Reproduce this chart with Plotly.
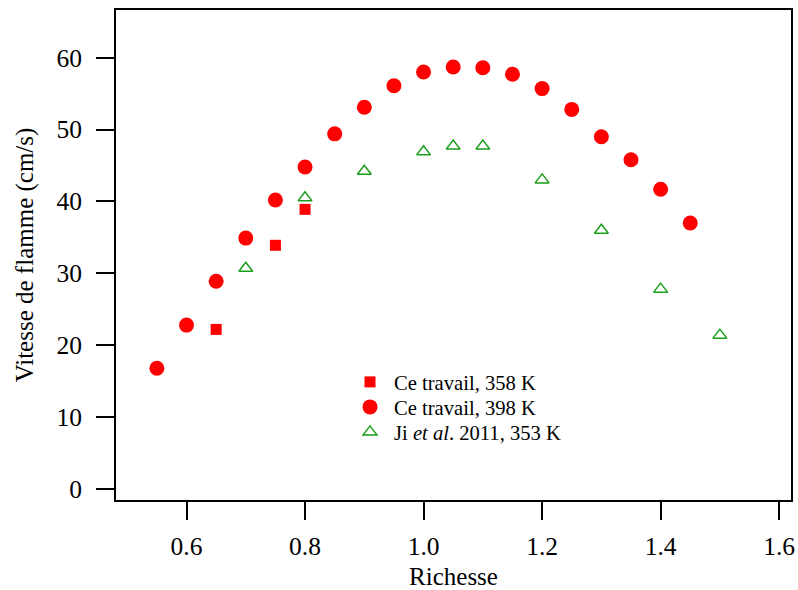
import plotly.graph_objects as go

# Data
richesse_398 = [0.55, 0.60, 0.65, 0.70, 0.75, 0.80, 0.85, 0.90, 0.95, 1.00,
                1.05, 1.10, 1.15, 1.20, 1.25, 1.30, 1.35, 1.40, 1.45]
vitesse_398 = [16.8, 22.8, 28.9, 34.9, 40.2, 44.8, 49.4, 53.1, 56.1, 58.0,
               58.7, 58.6, 57.7, 55.7, 52.8, 49.0, 45.8, 41.7, 37.0]

richesse_358 = [0.65, 0.75, 0.80]
vitesse_358 = [22.2, 33.9, 38.9]

richesse_ji = [0.70, 0.80, 0.90, 1.00, 1.05, 1.10, 1.20, 1.30, 1.40, 1.50]
vitesse_ji = [30.7, 40.5, 44.2, 46.9, 47.7, 47.7, 43.0, 36.0, 27.8, 21.4]

x_ticks = [0.6, 0.8, 1.0, 1.2, 1.4, 1.6]
y_ticks = [0, 10, 20, 30, 40, 50, 60]

FONT = "Liberation Serif"
RED = "#ff0000"
GREEN = "#1a9e1a"

fig = go.Figure()
fig.add_trace(go.Scatter(
    x=richesse_358, y=vitesse_358, mode="markers", name="Ce travail, 358 K",
    marker=dict(symbol="square", size=11, color=RED), legend="legend",
    showlegend=True))
fig.add_trace(go.Scatter(
    x=richesse_398, y=vitesse_398, mode="markers", name="Ce travail, 398 K",
    marker=dict(symbol="circle", size=15, color=RED), legend="legend2",
    showlegend=True))
fig.add_trace(go.Scatter(
    x=richesse_ji, y=vitesse_ji, mode="markers",
    name="Ji <i>et al</i>. 2011, 353 K",
    marker=dict(symbol="triangle-up-open", size=12, color=GREEN,
                line=dict(width=1.5, color=GREEN)), legend="legend3",
    showlegend=True))

axis_common = dict(
    showline=True, linewidth=2, linecolor="black", mirror=True,
    ticks="outside", ticklen=18, tickwidth=2, tickcolor="black",
    showgrid=False, zeroline=False, automargin=False,
    tickfont=dict(family=FONT, size=25.5, color="black"),
)

legend_common = dict(
    xref="paper", yref="paper", xanchor="left", yanchor="middle",
    bgcolor="rgba(0,0,0,0)", borderwidth=0, itemwidth=38,
    font=dict(family=FONT, size=20.6, color="black"),
)

def py(pix):
    return (500 - pix) / (500 - 10)

def px(pix):
    return (pix - 116) / (791 - 116)

fig.update_layout(
    width=798, height=590,
    showlegend=True,
    margin=dict(l=116, r=7, t=10, b=90, autoexpand=False),
    paper_bgcolor="white", plot_bgcolor="white",
    font=dict(family=FONT, size=24, color="black"),
    xaxis=dict(range=[0.481, 1.62], tickvals=x_ticks,
               ticktext=[f"{v:.1f}" for v in x_ticks],
               ticklabelstandoff=4,
               title=dict(text="Richesse", font=dict(family=FONT, size=25)),
               **axis_common),
    yaxis=dict(range=[-1.53, 66.63], tickvals=y_ticks,
               ticklabelstandoff=9,
               title=dict(text="Vitesse de flamme (cm/s)", standoff=16,
                          font=dict(family=FONT, size=25)),
               **axis_common),
    legend=dict(x=px(346), y=py(382), **legend_common),
    legend2=dict(x=px(346), y=py(407), **legend_common),
    legend3=dict(x=px(346), y=py(432), **legend_common),
)

fig.write_html(
    "out.html",
    config={"displayModeBar": False},
    post_script="document.body.style.margin='0px';document.body.style.overflow='hidden';",
)
